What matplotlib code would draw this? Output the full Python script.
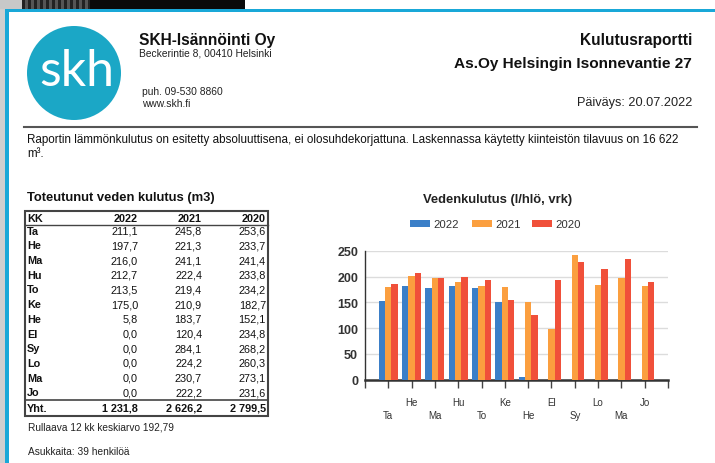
import matplotlib
matplotlib.use("Agg")
import matplotlib.pyplot as plt
from matplotlib.patches import Rectangle, Circle
import numpy as np

plt.rcParams['font.family'] = ['Liberation Sans', 'DejaVu Sans']

# ---------------- data ----------------
months = ['Ta', 'He', 'Ma', 'Hu', 'To', 'Ke', 'He', 'El', 'Sy', 'Lo', 'Ma', 'Jo']
years = ['2022', '2021', '2020']
m3_2022 = [211.1, 197.7, 216.0, 212.7, 213.5, 175.0, 5.8, 0.0, 0.0, 0.0, 0.0, 0.0]
m3_2021 = [245.8, 221.3, 241.1, 222.4, 219.4, 210.9, 183.7, 120.4, 284.1, 224.2, 230.7, 222.2]
m3_2020 = [253.6, 233.7, 241.4, 233.8, 234.2, 182.7, 152.1, 234.8, 268.2, 260.3, 273.1, 231.6]

lpd_2022 = [153, 181, 178, 181, 177, 150, 5, 0, 0, 0, 0, 0]
lpd_2021 = [179, 201, 198, 190, 181, 179, 151, 98, 242, 184, 197, 182]
lpd_2020 = [185, 206, 198, 200, 194, 155, 125, 194, 229, 214, 234, 190]
y_ticks = [0, 50, 100, 150, 200, 250]

colors = ['#3b7fc8', '#fb9f3f', '#f0503a']
CYAN = '#19a8d8'
LOGO = '#1ba7c6'

W, H = 715, 464
fig = plt.figure(figsize=(W / 100, H / 100), dpi=100)
fig.patch.set_facecolor('white')

bg = fig.add_axes([0, 0, 1, 1])
bg.set_xlim(0, W)
bg.set_ylim(H, 0)
bg.axis('off')

# photo edges
bg.add_patch(Rectangle((0, 0), 6, H, color='#cfcfcf', lw=0))
bg.add_patch(Rectangle((0, 0), 22, 10, color='#c8c8c8', lw=0))
for i, x in enumerate(np.arange(22, 90, 3)):
    bg.add_patch(Rectangle((x, 0), 3, 10, color=('#555555' if i % 2 else '#222222'), lw=0))
bg.add_patch(Rectangle((90, 0), 155, 10, color='#0a0a0a', lw=0))
bg.add_patch(Rectangle((5, 10), W - 5, 2.5, color=CYAN, lw=0))
bg.add_patch(Rectangle((5, 10), 4, H - 10, color=CYAN, lw=0))

# logo
bg.add_patch(Circle((74, 74), 47, color=LOGO, lw=0))
bg.text(77, 72, 'skh', color='white', fontsize=36, ha='center', va='center',
        family=['Lato', 'DejaVu Sans'])

# header text
bg.text(139, 40, 'SKH-Isännöinti Oy', fontsize=11.2, weight='bold', va='center', color='#111')
bg.text(139, 53, 'Beckerintie 8, 00410 Helsinki', fontsize=7.4, va='center', color='#222')
bg.text(142, 92, 'puh. 09-530 8860', fontsize=7.4, va='center', color='#222')
bg.text(142, 104, 'www.skh.fi', fontsize=7.4, va='center', color='#222')

bg.text(692, 40, 'Kulutusraportti', fontsize=11.2, weight='bold', ha='right', va='center', color='#111')
bg.text(692, 64, 'As.Oy Helsingin Isonnevantie 27', fontsize=11.1, weight='bold', ha='right',
        va='center', color='#111')
bg.text(692, 103, 'Päiväys: 20.07.2022', fontsize=9.2, ha='right', va='center', color='#222')

bg.plot([24, 697], [127.5, 127.5], color='#555', lw=1.5)

bg.text(27, 140, 'Raportin lämmönkulutus on esitetty absoluuttisena, ei olosuhdekorjattuna. '
        'Laskennassa käytetty kiinteistön tilavuus on 16 622', fontsize=8.4, va='center', color='#111')
bg.text(27, 154, 'm³.', fontsize=8.4, va='center', color='#111')

# ---------------- table ----------------
def fmt(v):
    s = f'{v:,.1f}'.replace(',', ' ').replace('.', ',')
    return s

bg.text(27, 198, 'Toteutunut veden kulutus (m3)', fontsize=9.4, weight='bold', va='center', color='#111')
bg.add_patch(Rectangle((25, 212), 243, 205, fill=False, ec='#444', lw=1.5))
bg.plot([25, 268], [226, 226], color='#444', lw=1.0)
bg.plot([25, 268], [401, 401], color='#444', lw=1.2)

col_x = [138, 202, 266]
row0, dy = 219, 14.7
tfs = 7.8
bg.text(27, row0, 'KK', fontsize=tfs, weight='bold', va='center', color='#111')
for cx, yr in zip(col_x, years):
    bg.text(cx, row0, yr, fontsize=tfs, weight='bold', ha='right', va='center', color='#111')
series_m3 = [m3_2022, m3_2021, m3_2020]
for i, m in enumerate(months):
    y = 231.7 + i * dy
    bg.text(27, y, m, fontsize=tfs, weight='bold', va='center', color='#111')
    for cx, s in zip(col_x, series_m3):
        bg.text(cx, y, fmt(s[i]), fontsize=tfs, ha='right', va='center', color='#111')
bg.text(27, 409, 'Yht.', fontsize=tfs, weight='bold', va='center', color='#111')
for cx, s in zip(col_x, series_m3):
    bg.text(cx, 409, fmt(sum(s)), fontsize=tfs, weight='bold', ha='right', va='center', color='#111')

bg.text(28, 428, 'Rullaava 12 kk keskiarvo 192,79', fontsize=7.3, va='center', color='#222')
bg.text(28, 452, 'Asukkaita: 39 henkilöä', fontsize=7.3, va='center', color='#222')

# ---------------- chart ----------------
ax_l, ax_r, ax_t, ax_b = 365, 668, 251.7, 380.7
ax = fig.add_axes([ax_l / W, 1 - ax_b / H, (ax_r - ax_l) / W, (ax_b - ax_t) / H])
x = np.arange(len(months))
bw = 0.27
for k, (vals, c, yr) in enumerate(zip([lpd_2022, lpd_2021, lpd_2020], colors, years)):
    ax.bar(x + (k - 1) * bw, vals, width=bw, color=c, label=yr, zorder=3)
ax.set_xlim(-1, 12)
ax.set_ylim(0, 250)
ax.set_yticks(y_ticks)
ax.set_yticklabels([str(v) for v in y_ticks], fontsize=9, weight='bold', color='#333')
ax.tick_params(axis='y', length=0, pad=5)
ax.grid(axis='y', color='#dcdcdc', lw=1, zorder=0)
ax.set_xticks(x)
ax.set_xticklabels(months, fontsize=7, color='#333')
ax.set_xticks([-1, 12], minor=True)
ax.tick_params(axis='x', which='both', length=6, width=1, color='#444')
for i, t in enumerate(ax.xaxis.get_major_ticks()):
    t.set_pad(16 if i % 2 == 0 else 6.5)
for s in ['top', 'right']:
    ax.spines[s].set_visible(False)
ax.spines['left'].set_color('#333')
ax.spines['left'].set_linewidth(1)
ax.spines['bottom'].set_color('#333')
ax.spines['bottom'].set_linewidth(1.8)
ax.set_facecolor('none')

bg.text(497.5, 200, 'Vedenkulutus (l/hlö, vrk)', fontsize=9.4, weight='bold', ha='center', va='center', color='#222')
leg_x = [410, 472, 532]
for lx, c, yr in zip(leg_x, colors, years):
    bg.add_patch(Rectangle((lx, 221), 20, 7, color=c, lw=0))
    bg.text(lx + 23, 225, yr, fontsize=8.2, va='center', color='#333')

fig.savefig('out.png', dpi=100)
